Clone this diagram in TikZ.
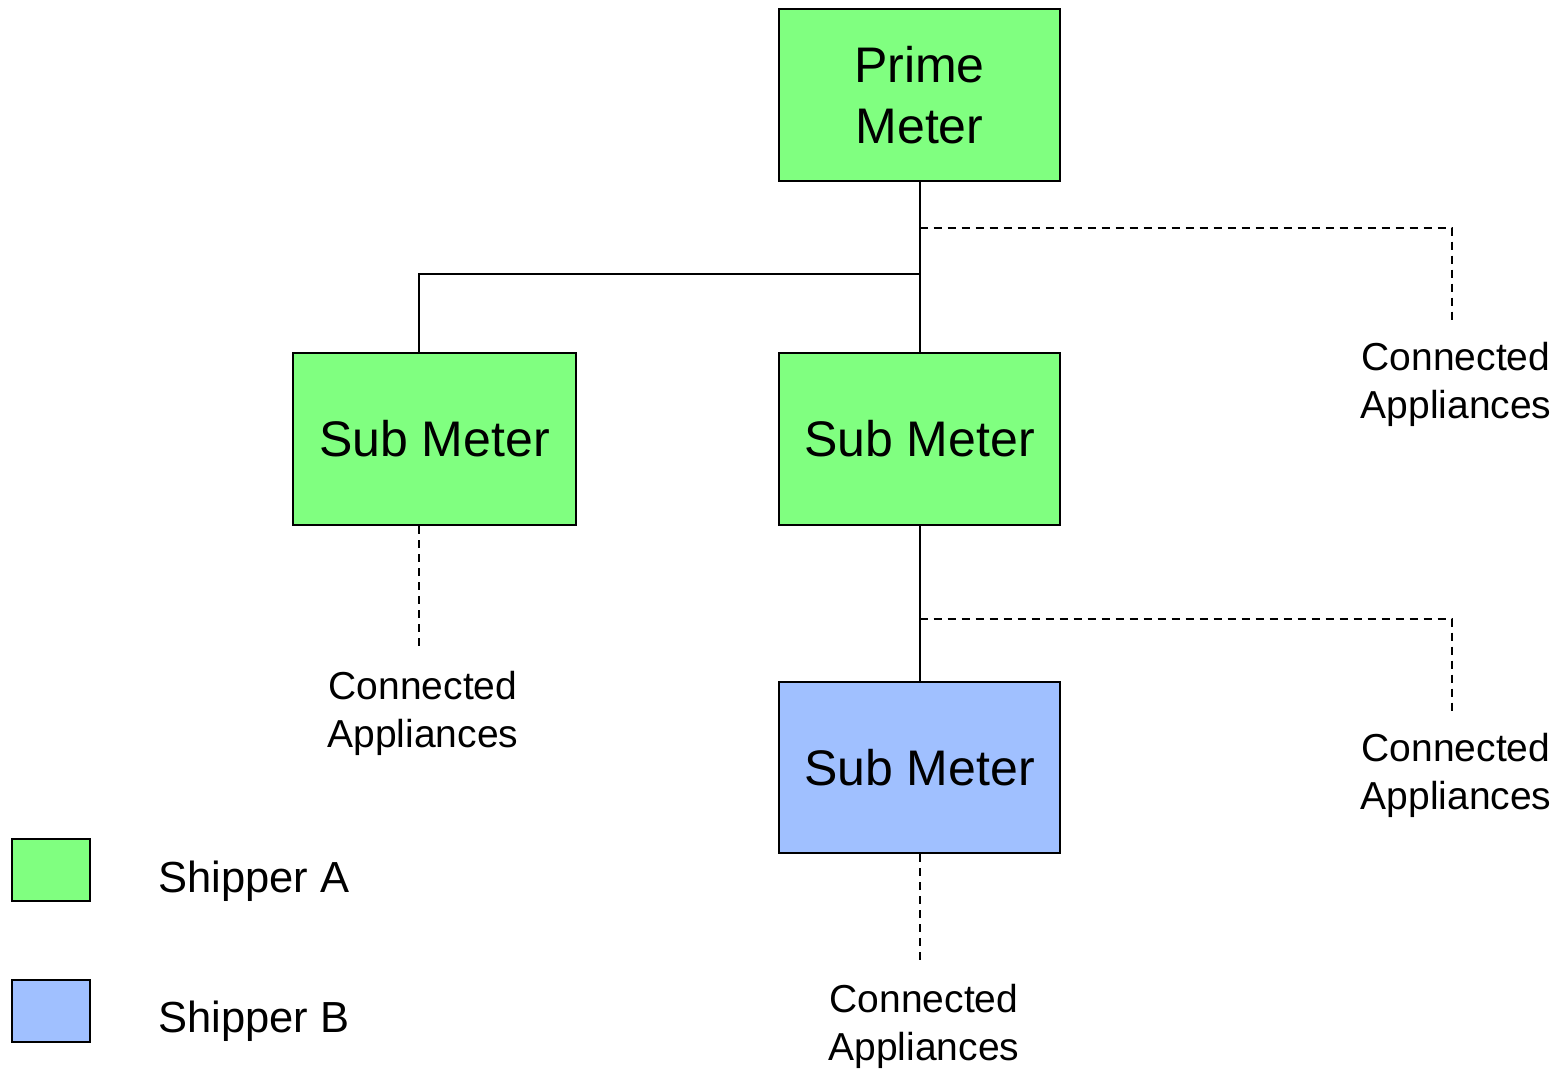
\documentclass[tikz,border=0pt]{standalone}
\usepackage{fontspec}
\setmainfont{Liberation Sans}
\definecolor{shipA}{HTML}{80FF80}
\definecolor{shipB}{HTML}{A0C0FF}
\begin{document}
\begin{tikzpicture}[x=1pt,y=-1pt,
  meter/.style={draw=black,line width=2pt,minimum width=281pt,minimum height=172pt,inner sep=0pt,align=center,font=\fontsize{50}{61}\selectfont},
  legendbox/.style={draw=black,line width=2pt,minimum width=78pt,minimum height=62pt,inner sep=0pt},
  wire/.style={line width=2pt},
  dwire/.style={line width=2pt,dash pattern=on 8pt off 6pt},
  apptext/.style={align=center,font=\fontsize{39}{48}\selectfont,inner sep=0pt},
  legtext/.style={anchor=west,font=\fontsize{43.5}{50}\selectfont,inner sep=0pt}]
\useasboundingbox (0,0) rectangle (1557,1068);
\node[meter,fill=shipA] (prime) at (919.5,95) {\raisebox{-3pt}{\parbox{200pt}{\centering Prime\\Meter}}};
\node[meter,fill=shipA,minimum width=283pt] (left) at (434.5,439) {\raisebox{-3pt}{Sub Meter}};
\node[meter,fill=shipA] (mid) at (919.5,439) {\raisebox{-3pt}{Sub Meter}};
\node[meter,fill=shipB,minimum height=171pt] (low) at (919.5,767.5) {\raisebox{-3pt}{Sub Meter}};
\coordinate (j1) at (919.5,274);
\coordinate (jl) at (419,274);
\coordinate (d1) at (919.5,228);
\coordinate (e1) at (1452,321);
\coordinate (d2) at (919.5,619);
\coordinate (e2) at (1452,713);
\coordinate (e3) at (419,650);
\coordinate (e4) at (919.5,963);
\draw[wire] (prime.south) -- (mid.north);
\draw[wire] (j1) -- (jl) -- (jl |- left.north);
\draw[wire] (mid.south) -- (low.north);
\draw[dwire] (d1) -| (e1);
\draw[dwire] (d2) -| (e2);
\draw[dwire] (jl |- left.south) -- (e3);
\draw[dwire] (low.south) -- (e4);
\node[apptext] (a1) at (1456,384) {Connected\\Appliances};
\node[apptext] (a2) at (1456,775) {Connected\\Appliances};
\node[apptext] (a3) at (423,713) {Connected\\Appliances};
\node[apptext] (a4) at (924,1026) {Connected\\Appliances};
\node[legendbox,fill=shipA] (la) at (51,870) {};
\node[legendbox,fill=shipB] (lb) at (51,1010.5) {};
\node[legtext] (ta) at (158,881) {Shipper A};
\node[legtext] (tb) at (158,1021) {Shipper B};
\end{tikzpicture}
\end{document}
